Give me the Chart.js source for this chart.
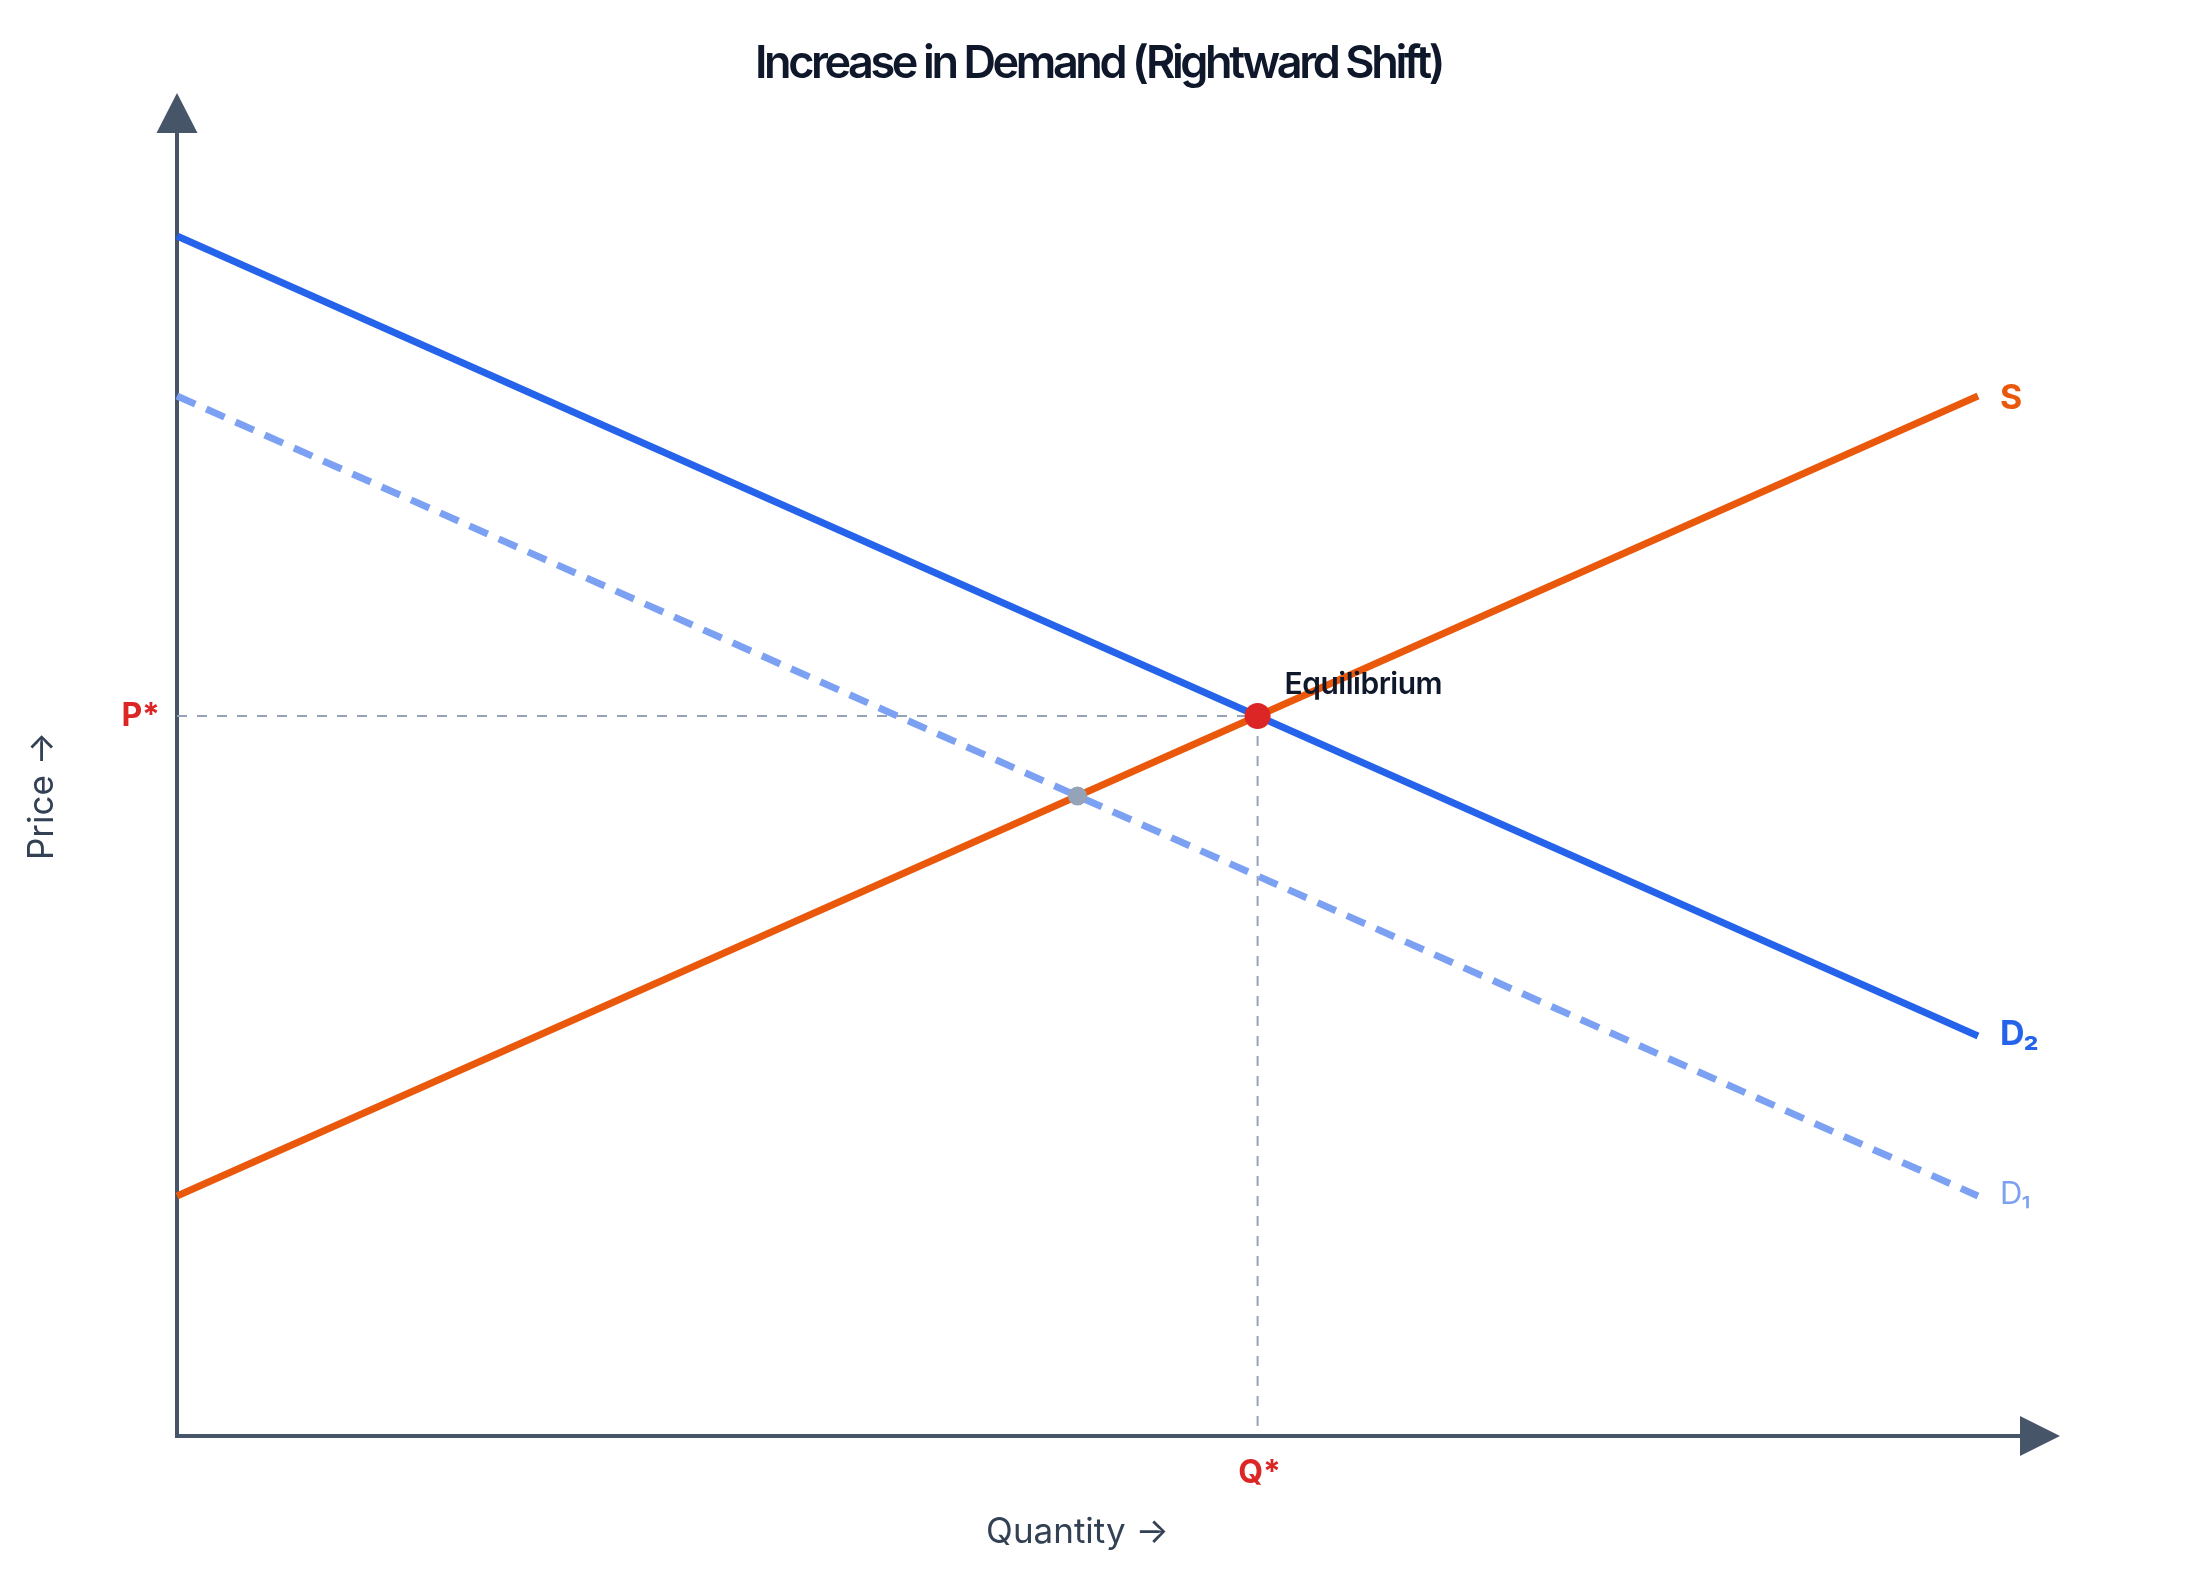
<!DOCTYPE html>
<html><head><meta charset="utf-8">
<script src="https://cdn.jsdelivr.net/npm/chart.js@4.4.1/dist/chart.umd.min.js"></script>
<style>html,body{margin:0;padding:0;background:#fff;}</style>
</head><body>
<canvas id="c" width="2200" height="1589" style="width:2200px;height:1589px;display:block"></canvas>
<script>
// ---- data ----
const quantities = [0, 10];
const supplyPrices = [1.5, 6.5];
const demand1Prices = [6.5, 1.5];
const demand2Prices = [7.5, 2.5];
const equilibriumPoint = [6, 4.5];      // [Q*, P*]
const oldEquilibriumPoint = [5, 4];
const curveLabels = ['S', 'D\u2082', 'D\u2081'];
const priceTickLabel = 'P*';
const quantityTickLabel = 'Q*';
const xAxisTitle = 'Quantity \u2192';
const yAxisTitle = 'Price \u2192';
const chartTitle = 'Increase in Demand (Rightward Shift)';
const pointLabel = 'Equilibrium';

const FONT = 'Inter, "Noto Sans", sans-serif';
const toPts = (xs, ys) => xs.map((x, i) => ({x, y: ys[i]}));

const overlay = {
  id: 'overlay',
  beforeDatasetsDraw(chart) {
    const {ctx, chartArea: a} = chart;
    ctx.save();
    // title
    ctx.font = `600 45px ${FONT}`;
    ctx.letterSpacing = '-3.4px';
    ctx.fillStyle = '#0f172a';
    ctx.textAlign = 'left'; ctx.textBaseline = 'middle';
    const w = ctx.measureText(chartTitle).width;
    ctx.fillText(chartTitle, chart.width / 2 - w / 2 - 1.5, 64);
    ctx.letterSpacing = '0px';
    // axes
    ctx.strokeStyle = '#475569';
    ctx.fillStyle = '#475569';
    ctx.lineWidth = 4;
    ctx.beginPath(); ctx.moveTo(a.left, a.bottom + 2); ctx.lineTo(a.left, a.top - 23); ctx.stroke();
    ctx.beginPath(); ctx.moveTo(a.left - 20.5, a.top - 23); ctx.lineTo(a.left + 20.5, a.top - 23); ctx.lineTo(a.left, a.top - 63); ctx.closePath(); ctx.fill();
    ctx.beginPath(); ctx.moveTo(a.left - 2, a.bottom); ctx.lineTo(a.right + 42, a.bottom); ctx.stroke();
    ctx.beginPath(); ctx.moveTo(a.right + 42, a.bottom - 20); ctx.lineTo(a.right + 42, a.bottom + 20); ctx.lineTo(a.right + 82, a.bottom); ctx.closePath(); ctx.fill();
    ctx.restore();
  },
  afterDatasetsDraw(chart) {
    const {ctx, chartArea: a, scales: {x, y}} = chart;
    ctx.save();
    // curve end labels
    const ends = [
      {ys: supplyPrices, text: curveLabels[0], color: '#ea580c', font: `700 34px ${FONT}`, dy: 3},
      {ys: demand2Prices, text: curveLabels[1], color: '#2563eb', font: `700 34px ${FONT}`, dy: -1},
      {ys: demand1Prices, text: curveLabels[2], color: '#7ca1f3', font: `400 31px ${FONT}`, dy: -1}
    ];
    ctx.textAlign = 'left'; ctx.textBaseline = 'middle';
    ends.forEach(e => {
      const px = x.getPixelForValue(quantities[quantities.length - 1]);
      const py = y.getPixelForValue(e.ys[e.ys.length - 1]);
      ctx.fillStyle = e.color; ctx.font = e.font;
      ctx.fillText(e.text, px + 22, py + e.dy);
    });
    // P*, Q*
    const qx = x.getPixelForValue(equilibriumPoint[0]);
    const py = y.getPixelForValue(equilibriumPoint[1]);
    ctx.fillStyle = '#dc2626'; ctx.font = `700 32px ${FONT}`;
    ctx.textAlign = 'right'; ctx.fillText(priceTickLabel, a.left - 17, py);
    ctx.textAlign = 'center'; ctx.fillText(quantityTickLabel, qx + 2, a.bottom + 37);
    // Equilibrium label
    ctx.fillStyle = '#0f172a'; ctx.font = `600 30px ${FONT}`;
    ctx.letterSpacing = '-0.5px';
    ctx.textAlign = 'left'; ctx.textBaseline = 'alphabetic';
    ctx.fillText(pointLabel, qx + 27, py - 22);
    ctx.letterSpacing = '0px';
    // axis titles
    ctx.fillStyle = '#334155'; ctx.font = `400 35px ${FONT}`;
    ctx.textAlign = 'center'; ctx.textBaseline = 'middle';
    ctx.fillText(xAxisTitle, (a.left + a.right) / 2, a.bottom + 96);
    ctx.save();
    ctx.translate(42, (a.top + a.bottom) / 2);
    ctx.rotate(-Math.PI / 2);
    ctx.fillText(yAxisTitle, 0, 0);
    ctx.restore();
    ctx.restore();
  }
};

new Chart(document.getElementById('c'), {
  type: 'line',
  data: {
    datasets: [
      {label: 'Equilibrium', type: 'scatter', data: [{x: equilibriumPoint[0], y: equilibriumPoint[1]}],
       pointRadius: 13, pointBackgroundColor: '#dc2626', pointBorderWidth: 0, order: 0},
      {label: 'Old equilibrium', type: 'scatter', data: [{x: oldEquilibriumPoint[0], y: oldEquilibriumPoint[1]}],
       pointRadius: 9.5, pointBackgroundColor: '#94a3b8', pointBorderWidth: 0, order: 1},
      {label: 'D2', data: toPts(quantities, demand2Prices), borderColor: '#2563eb', borderWidth: 7,
       pointRadius: 0, order: 2},
      {label: 'S', data: toPts(quantities, supplyPrices), borderColor: '#ea580c', borderWidth: 7,
       pointRadius: 0, order: 3},
      {label: 'D1', data: toPts(quantities, demand1Prices), borderColor: '#7ca1f3', borderWidth: 7,
       borderDash: [20, 12], pointRadius: 0, order: 4},
      {label: 'P guide', data: [{x: 0, y: equilibriumPoint[1]}, {x: equilibriumPoint[0], y: equilibriumPoint[1]}],
       borderColor: '#94a3b8', borderWidth: 2, borderDash: [10, 10], pointRadius: 0, order: 5},
      {label: 'Q guide', data: [{x: equilibriumPoint[0], y: equilibriumPoint[1]}, {x: equilibriumPoint[0], y: 0}],
       borderColor: '#94a3b8', borderWidth: 2, borderDash: [10, 10], pointRadius: 0, order: 6}
    ]
  },
  options: {
    responsive: false,
    devicePixelRatio: 1,
    animation: false,
    clip: false,
    layout: {padding: {left: 177, right: 222, top: 156, bottom: 153}},
    plugins: {
      legend: {display: false},
      tooltip: {enabled: false},
      title: {display: false}
    },
    scales: {
      x: {type: 'linear', min: 0, max: 10, display: false},
      y: {type: 'linear', min: 0, max: 8, display: false}
    }
  },
  plugins: [overlay]
});
</script>
</body></html>
